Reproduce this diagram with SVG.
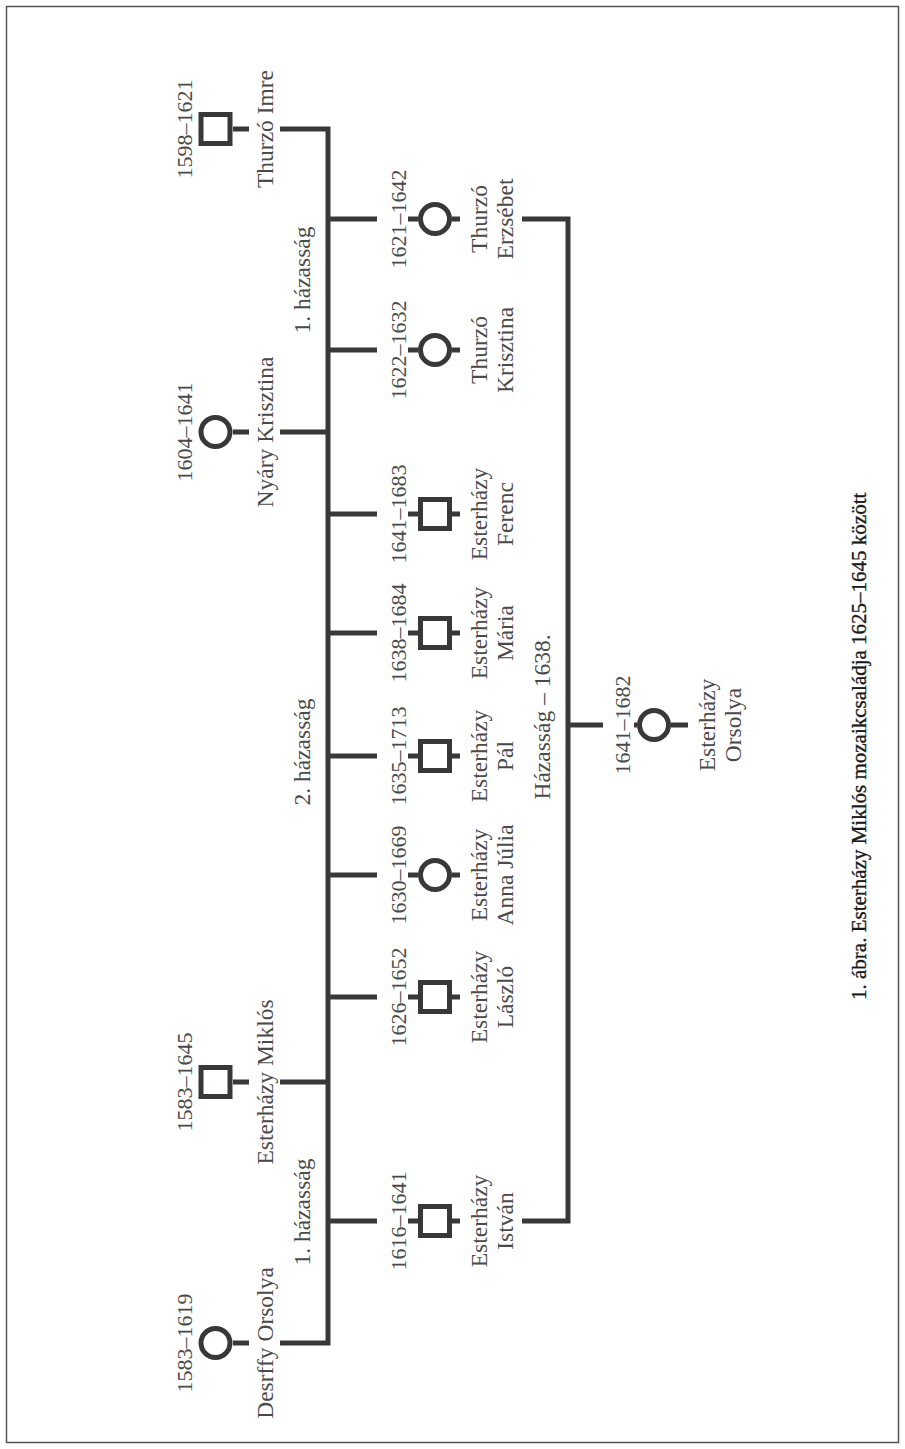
<svg xmlns="http://www.w3.org/2000/svg" width="905" height="1449" viewBox="0 0 905 1449">
<style>
.ln{stroke:#383838;stroke-width:5;fill:none;stroke-linejoin:miter;stroke-linecap:butt}
.sym{stroke:#383838;stroke-width:5;fill:#fff}
.t{font-family:"Liberation Serif",serif;font-size:23.5px;fill:#4a4a4a;text-anchor:middle}
.d{font-size:22px}
.cap{font-family:"Liberation Serif",serif;font-size:21px;fill:#1a1a1a;stroke:#1a1a1a;stroke-width:0.35;text-anchor:start}
</style>
<rect x="6.5" y="6.5" width="892" height="1436" fill="#fff" stroke="#555" stroke-width="1.5"/>
<g id="connectors">
<path class="ln" d="M280,129H328V1343H280"/>
<path class="ln" d="M280,432H328M280,1082H328"/>
<path class="ln" d="M233,129H249M233,432H249M233,1082H249M233,1343H249"/>
<path class="ln" d="M328,219H377M408,219H418M452,219H460"/>
<path class="ln" d="M328,350H377M408,350H418M452,350H460"/>
<path class="ln" d="M328,514H377M408,514H418M452,514H460"/>
<path class="ln" d="M328,633H377M408,633H418M452,633H460"/>
<path class="ln" d="M328,756H377M408,756H418M452,756H460"/>
<path class="ln" d="M328,875H377M408,875H418M452,875H460"/>
<path class="ln" d="M328,997H377M408,997H418M452,997H460"/>
<path class="ln" d="M328,1221H377M408,1221H418M452,1221H460"/>
<path class="ln" d="M522,219H568V1221H522"/>
<path class="ln" d="M568,725H603M634,725H637M671,725H688"/>
</g>
<g id="labels">
<text class="t" transform="translate(310,280) rotate(-90)">1. házasság</text>
<text class="t" transform="translate(310,752) rotate(-90)">2. házasság</text>
<text class="t" transform="translate(310,1212) rotate(-90)">1. házasság</text>
<text class="t" transform="translate(550,717) rotate(-90)">Házasság – 1638.</text>
</g>
<g id="thurzo-imre">
<rect class="sym" x="201" y="114.5" width="29" height="29"/>
<text class="t d" transform="translate(192,129) rotate(-90)">1598–1621</text>
<text class="t" transform="translate(273,129) rotate(-90)">Thurzó Imre</text>
</g>
<g id="nyary-krisztina">
<circle class="sym" cx="215.5" cy="432" r="14.5"/>
<text class="t d" transform="translate(192,432) rotate(-90)">1604–1641</text>
<text class="t" transform="translate(273,432) rotate(-90)">Nyáry Krisztina</text>
</g>
<g id="esterhazy-miklos">
<rect class="sym" x="201" y="1067.5" width="29" height="29"/>
<text class="t d" transform="translate(192,1082) rotate(-90)">1583–1645</text>
<text class="t" transform="translate(273,1082) rotate(-90)">Esterházy Miklós</text>
</g>
<g id="desrffy-orsolya">
<circle class="sym" cx="215.5" cy="1343" r="14.5"/>
<text class="t d" transform="translate(192,1343) rotate(-90)">1583–1619</text>
<text class="t" transform="translate(273,1343) rotate(-90)">Desrffy Orsolya</text>
</g>
<g id="thurzo-erzsebet">
<circle class="sym" cx="435" cy="219" r="14.5"/>
<text class="t d" transform="translate(406,219) rotate(-90)">1621–1642</text>
<text class="t" transform="translate(487,219) rotate(-90)">Thurzó</text>
<text class="t" transform="translate(513,219) rotate(-90)">Erzsébet</text>
</g>
<g id="thurzo-krisztina">
<circle class="sym" cx="435" cy="350" r="14.5"/>
<text class="t d" transform="translate(406,350) rotate(-90)">1622–1632</text>
<text class="t" transform="translate(487,350) rotate(-90)">Thurzó</text>
<text class="t" transform="translate(513,350) rotate(-90)">Krisztina</text>
</g>
<g id="esterhazy-ferenc">
<rect class="sym" x="420.5" y="499.5" width="29" height="29"/>
<text class="t d" transform="translate(406,514) rotate(-90)">1641–1683</text>
<text class="t" transform="translate(487,514) rotate(-90)">Esterházy</text>
<text class="t" transform="translate(513,514) rotate(-90)">Ferenc</text>
</g>
<g id="esterhazy-maria">
<rect class="sym" x="420.5" y="618.5" width="29" height="29"/>
<text class="t d" transform="translate(406,633) rotate(-90)">1638–1684</text>
<text class="t" transform="translate(487,633) rotate(-90)">Esterházy</text>
<text class="t" transform="translate(513,633) rotate(-90)">Mária</text>
</g>
<g id="esterhazy-pal">
<rect class="sym" x="420.5" y="741.5" width="29" height="29"/>
<text class="t d" transform="translate(406,756) rotate(-90)">1635–1713</text>
<text class="t" transform="translate(487,756) rotate(-90)">Esterházy</text>
<text class="t" transform="translate(513,756) rotate(-90)">Pál</text>
</g>
<g id="esterhazy-anna-julia">
<circle class="sym" cx="435" cy="875" r="14.5"/>
<text class="t d" transform="translate(406,875) rotate(-90)">1630–1669</text>
<text class="t" transform="translate(487,875) rotate(-90)">Esterházy</text>
<text class="t" transform="translate(513,875) rotate(-90)">Anna Júlia</text>
</g>
<g id="esterhazy-laszlo">
<rect class="sym" x="420.5" y="982.5" width="29" height="29"/>
<text class="t d" transform="translate(406,997) rotate(-90)">1626–1652</text>
<text class="t" transform="translate(487,997) rotate(-90)">Esterházy</text>
<text class="t" transform="translate(513,997) rotate(-90)">László</text>
</g>
<g id="esterhazy-istvan">
<rect class="sym" x="420.5" y="1206.5" width="29" height="29"/>
<text class="t d" transform="translate(406,1221) rotate(-90)">1616–1641</text>
<text class="t" transform="translate(487,1221) rotate(-90)">Esterházy</text>
<text class="t" transform="translate(513,1221) rotate(-90)">István</text>
</g>
<g id="esterhazy-orsolya">
<circle class="sym" cx="654" cy="725" r="14.5"/>
<text class="t d" transform="translate(630,725) rotate(-90)">1641–1682</text>
<text class="t" transform="translate(715,725) rotate(-90)">Esterházy</text>
<text class="t" transform="translate(741,725) rotate(-90)">Orsolya</text>
</g>
<text class="cap" transform="translate(866,1000) rotate(-90)">1. ábra. Esterházy Miklós mozaikcsaládja 1625–1645 között</text>
</svg>
